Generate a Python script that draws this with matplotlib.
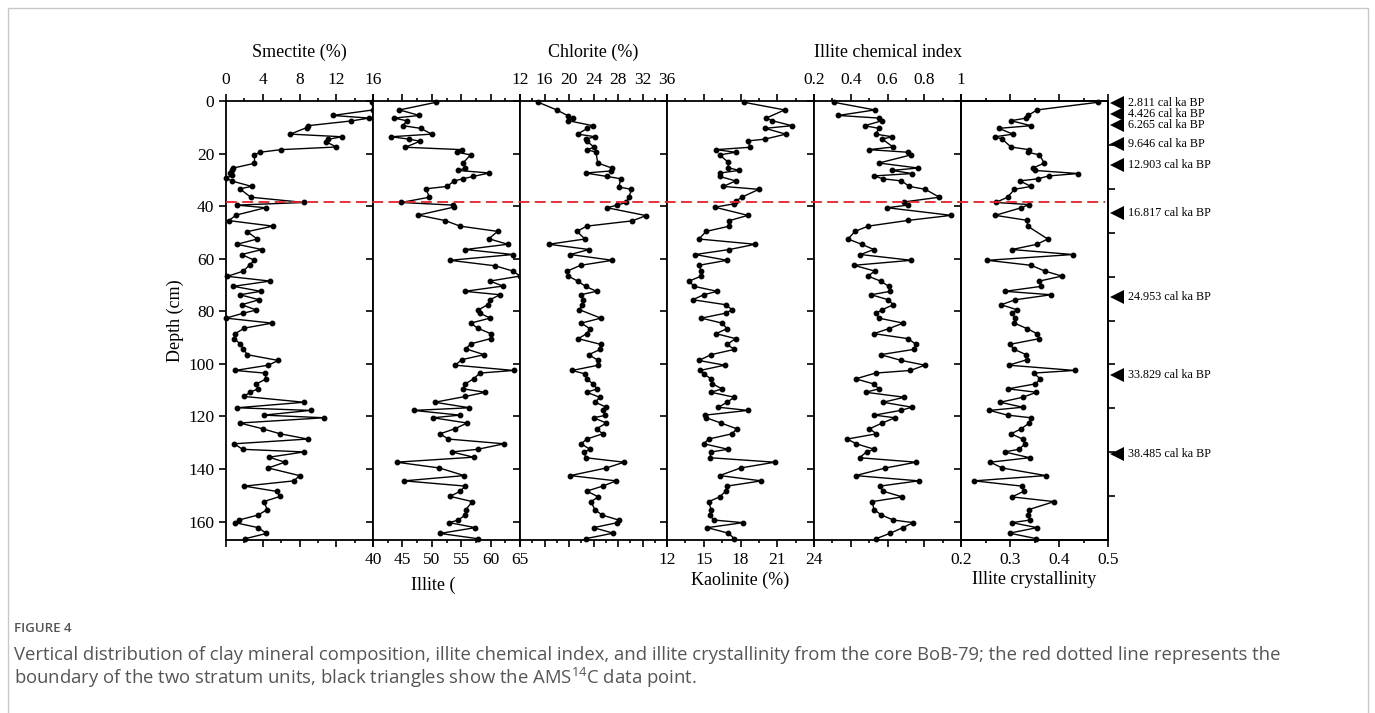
import numpy as np
import matplotlib
matplotlib.use("Agg")
import matplotlib.pyplot as plt
import matplotlib.transforms as mtransforms
from matplotlib.lines import Line2D
from matplotlib.patches import Rectangle
from matplotlib.ticker import MultipleLocator

# ---- data (depth in cm) ----
smectite_depth = [0.5, 3.4, 5.5, 6.5, 7.6, 9.4, 10.1, 12.6, 13.6, 14.6, 15.5, 17.5, 18.5, 19.5, 20.5,
                  23.7, 25.5, 26.4, 27.3, 28.3, 29.3, 30.4, 32.5, 33.4, 36.6, 38.6, 39.6, 40.6, 43.4,
                  45.5, 47.6, 49.7, 52.5, 54.5, 56.5, 58.4, 60.6, 62.2, 64.7, 66.7, 68.5, 70.5, 72.4,
                  73.7, 75.6, 77.5, 79.5, 80.7, 82.6, 84.5, 86.4, 88.5, 90.4, 92.3, 94.3, 96.5, 98.7,
                  100.5, 102.5, 103.5, 105.7, 107.6, 109.5, 110.8, 112.4, 114.6, 116.7, 117.7, 119.5,
                  120.5, 122.5, 124.7, 126.6, 128.6, 130.4, 132.5, 133.5, 135.5, 137.4, 139.6, 142.5,
                  144.5, 146.5, 148.5, 150.4, 152.4, 155.4, 157.5, 159.4, 160.4, 162.3, 164.5, 166.5]
smectite = [15.9, 16.0, 11.6, 15.6, 13.6, 8.9, 8.8, 7.0, 12.6, 11.1, 10.9, 12.0, 6.0, 3.7, 3.1,
            3.1, 0.8, 0.6, 0.4, 0.7, 0.04, 0.6, 2.8, 1.5, 2.7, 8.5, 1.2, 4.3, 1.1,
            0.3, 5.1, 2.3, 3.4, 1.2, 3.9, 1.7, 3.1, 2.6, 1.9, 0.15, 4.8, 0.8, 3.8,
            1.5, 3.6, 1.7, 3.3, 1.9, 0.0, 5.0, 2.0, 1.0, 0.9, 1.5, 1.9, 2.3, 5.7,
            4.6, 1.0, 4.2, 4.4, 3.3, 3.5, 2.6, 2.0, 8.5, 1.2, 9.2, 4.1,
            10.7, 1.5, 4.0, 5.9, 8.9, 0.9, 1.8, 8.5, 4.7, 6.4, 4.6, 8.0,
            7.4, 2.0, 5.5, 5.9, 4.1, 4.5, 3.5, 1.4, 1.0, 3.5, 4.4, 2.1]

illite_depth = [0.5, 3.4, 5.5, 6.5, 7.5, 9.4, 10.4, 12.6, 13.6, 14.5, 15.3, 17.6, 18.5, 19.5, 20.5,
                23.6, 25.5, 26.4, 27.4, 28.7, 29.6, 30.4, 32.5, 33.4, 36.6, 38.6, 39.6, 40.4, 43.4,
                45.5, 47.6, 49.6, 52.4, 54.5, 56.5, 58.4, 60.6, 62.7, 64.7, 66.6, 68.5, 70.4, 72.4,
                73.7, 75.6, 77.5, 79.5, 80.7, 82.6, 84.5, 86.4, 88.5, 90.4, 92.4, 94.3, 96.5, 98.4,
                100.5, 102.5, 103.5, 105.7, 107.6, 109.5, 110.8, 112.4, 114.6, 116.7, 117.7, 119.5,
                120.5, 122.5, 124.7, 126.6, 128.6, 130.4, 132.5, 133.5, 135.5, 137.4, 139.6, 142.5,
                144.5, 146.5, 148.5, 150.4, 152.4, 155.4, 157.5, 159.4, 160.4, 162.3, 164.5, 166.5]
illite = [50.7, 44.5, 47.9, 43.6, 45.7, 45.1, 48.1, 50.0, 43.1, 46.1, 48.0, 45.5, 55.1, 54.3, 56.6,
          55.3, 55.7, 54.5, 59.8, 57.0, 55.3, 53.8, 52.6, 49.0, 49.6, 44.8, 53.6, 53.7, 47.7,
          52.3, 54.8, 61.2, 59.7, 62.9, 55.7, 63.8, 53.1, 60.8, 63.8, 65.0, 59.9, 62.1, 55.6,
          61.6, 59.9, 59.5, 57.9, 58.2, 59.9, 56.6, 57.8, 60.0, 60.0, 56.6, 55.8, 58.9, 55.1,
          54.0, 63.9, 58.2, 57.1, 55.7, 55.3, 59.1, 55.7, 50.5, 56.4, 46.9, 54.8,
          50.2, 56.0, 53.9, 51.4, 52.8, 62.3, 57.8, 53.4, 57.1, 44.0, 51.3, 55.5,
          45.3, 55.7, 54.8, 53.1, 56.9, 55.8, 55.7, 54.5, 53.0, 57.4, 51.4, 57.8]

chlorite_depth = [0.5, 3.4, 5.7, 6.5, 7.5, 9.4, 10.4, 12.6, 13.6, 14.5, 15.2, 17.6, 18.5, 19.5,
                  23.6, 25.5, 26.6, 27.4, 28.7, 29.6, 32.7, 33.6, 36.6, 38.6, 39.6, 40.6, 43.6,
                  45.6, 47.6, 49.6, 52.5, 54.5, 56.5, 58.4, 60.6, 62.5, 64.7, 66.6, 68.5, 70.5,
                  72.4, 73.7, 75.6, 77.5, 79.4, 82.6, 84.5, 86.6, 88.5, 90.4, 92.6, 94.5, 96.5,
                  98.7, 100.5, 102.5, 103.8, 105.7, 107.6, 109.5, 110.8, 112.7, 114.6, 116.5,
                  117.7, 119.6, 120.5, 122.5, 124.7, 126.6, 128.6, 130.4, 132.5, 133.5, 135.7,
                  137.4, 139.6, 142.5, 144.5, 146.5, 148.4, 150.6, 152.4, 155.4, 157.5, 159.4,
                  160.4, 162.3, 164.4, 166.5]
chlorite = [15.0, 18.0, 19.9, 20.6, 19.9, 23.9, 23.0, 21.4, 24.3, 22.7, 22.9, 24.1, 23.0, 24.4,
            24.7, 27.0, 26.9, 22.7, 26.2, 28.5, 28.1, 30.2, 29.8, 29.3, 27.9, 26.2, 32.6,
            30.3, 22.9, 21.3, 22.6, 16.7, 23.3, 20.2, 27.1, 21.9, 19.7, 19.9, 21.4, 22.7,
            24.5, 21.9, 22.3, 22.2, 21.7, 25.2, 22.0, 23.4, 22.9, 21.5, 25.2, 25.1, 23.2,
            24.8, 24.8, 20.5, 22.6, 22.9, 23.9, 24.6, 22.9, 25.0, 24.3, 26.1,
            25.5, 25.9, 24.0, 26.1, 24.5, 25.5, 22.9, 22.0, 23.4, 22.5, 22.7,
            29.0, 26.1, 20.2, 27.7, 25.5, 22.9, 24.8, 23.6, 24.2, 25.4, 28.1,
            27.9, 24.0, 27.2, 22.7]

kaolinite_depth = [0.5, 3.4, 6.5, 7.5, 9.4, 10.4, 12.6, 14.5, 15.2, 17.6, 18.5, 19.5, 20.5, 23.3,
                   25.4, 26.4, 27.4, 28.7, 30.4, 32.5, 33.6, 36.6, 38.2, 39.1, 40.4, 43.5, 45.5,
                   47.6, 49.6, 52.5, 54.5, 56.5, 58.4, 60.6, 62.5, 64.7, 66.6, 68.5, 70.5, 72.4,
                   73.7, 75.6, 77.5, 79.4, 80.7, 82.6, 84.5, 86.6, 88.5, 90.4, 92.6, 94.5, 96.5,
                   98.7, 100.5, 102.5, 103.8, 105.7, 107.6, 109.5, 110.8, 112.7, 114.6, 116.5,
                   117.7, 119.5, 120.5, 122.5, 124.7, 126.6, 128.6, 130.4, 132.5, 133.5, 135.7,
                   137.4, 139.6, 142.5, 144.5, 146.5, 148.4, 150.6, 152.4, 155.4, 157.5, 159.4,
                   160.4, 162.3, 164.4, 166.5]
kaolinite = [18.3, 21.6, 20.1, 20.6, 22.2, 20.0, 21.7, 20.0, 18.6, 18.8, 16.0, 17.6, 16.3, 17.0,
             17.0, 17.9, 16.3, 16.3, 17.6, 16.6, 19.5, 18.1, 17.6, 17.5, 15.9, 18.6, 17.1,
             17.1, 15.2, 14.6, 19.2, 17.1, 14.3, 16.9, 14.6, 14.8, 14.8, 13.8, 14.2, 16.1,
             15.0, 14.1, 16.8, 17.3, 16.8, 14.8, 16.5, 16.9, 16.0, 17.6, 16.9, 17.5, 15.6,
             14.6, 16.7, 14.7, 15.0, 15.6, 15.7, 16.5, 15.6, 17.5, 16.9, 16.2,
             18.6, 15.1, 15.2, 16.4, 17.7, 17.3, 15.4, 15.0, 17.0, 15.6, 15.5,
             20.8, 18.0, 16.3, 19.7, 16.9, 16.8, 16.3, 15.4, 15.6, 15.5, 15.8,
             18.2, 15.3, 17.0, 17.5]

ici_depth = [0.5, 3.4, 5.5, 6.5, 7.5, 9.4, 10.4, 12.6, 13.6, 14.5, 17.5, 18.5, 19.5, 20.5, 23.6,
             25.5, 26.4, 27.6, 28.5, 29.6, 30.4, 32.5, 33.6, 36.6, 38.4, 39.6, 40.6, 43.5,
             45.4, 47.6, 49.6, 52.5, 54.5, 56.5, 58.4, 60.6, 62.5, 64.7, 66.6, 68.5, 70.5,
             72.4, 73.7, 75.6, 77.5, 79.4, 80.7, 82.6, 84.5, 86.6, 88.5, 90.4, 92.6, 94.5,
             96.5, 98.7, 100.5, 102.5, 103.5, 105.7, 107.6, 109.5, 110.8, 112.7, 114.6, 116.5,
             117.7, 119.5, 120.5, 122.5, 124.7, 126.6, 128.6, 130.4, 132.5, 133.5, 135.7,
             137.4, 139.6, 142.5, 144.5, 146.5, 148.4, 150.6, 152.4, 155.4, 157.5, 159.4,
             160.4, 162.3, 164.4, 166.5]
ici = [0.309, 0.531, 0.332, 0.553, 0.571, 0.475, 0.553, 0.535, 0.625, 0.571, 0.631, 0.499,
       0.712, 0.728, 0.553, 0.767, 0.625, 0.734, 0.526, 0.576, 0.676, 0.719, 0.806, 0.882,
       0.690, 0.712, 0.598, 0.947, 0.714, 0.495, 0.423, 0.385, 0.459, 0.526, 0.453, 0.730,
       0.417, 0.531, 0.493, 0.562, 0.607, 0.616, 0.511, 0.604, 0.631, 0.571, 0.540, 0.553,
       0.685, 0.607, 0.526, 0.712, 0.756, 0.743, 0.562, 0.676, 0.803, 0.725, 0.535, 0.426,
       0.524, 0.553, 0.481, 0.692, 0.576, 0.734, 0.671, 0.529, 0.640, 0.571, 0.502, 0.540,
       0.381, 0.430, 0.529, 0.486, 0.448, 0.756, 0.589, 0.426, 0.770, 0.558, 0.575, 0.680,
       0.517, 0.526, 0.567, 0.631, 0.740, 0.683, 0.616, 0.538]

ic_depth = [0.5, 3.4, 5.5, 6.5, 7.5, 9.4, 10.4, 12.6, 13.6, 14.5, 17.5, 18.5, 19.5, 20.5, 23.6,
            25.5, 26.4, 27.6, 28.5, 29.6, 30.4, 32.5, 33.6, 36.6, 38.6, 39.4, 40.6, 43.5,
            45.4, 47.6, 52.5, 54.5, 56.5, 58.4, 60.6, 62.5, 64.7, 66.6, 68.5, 70.5, 72.4,
            73.7, 75.6, 77.5, 79.4, 80.7, 82.6, 84.5, 86.6, 88.5, 90.4, 92.6, 94.5, 96.5,
            98.4, 100.5, 102.5, 103.5, 105.7, 107.6, 109.5, 110.8, 112.7, 114.6, 116.5,
            117.7, 119.5, 120.5, 122.5, 124.7, 126.6, 128.6, 130.4, 132.5, 133.5, 135.7,
            137.4, 139.6, 142.5, 144.5, 146.5, 148.4, 150.6, 152.4, 155.4, 157.5, 159.4,
            160.4, 162.3, 164.4, 166.5]
ic = [0.479, 0.355, 0.337, 0.333, 0.302, 0.343, 0.277, 0.306, 0.270, 0.284, 0.302, 0.338,
      0.337, 0.360, 0.370, 0.347, 0.350, 0.439, 0.379, 0.357, 0.320, 0.343, 0.309, 0.295,
      0.271, 0.339, 0.323, 0.270, 0.335, 0.336, 0.377, 0.355, 0.304, 0.428, 0.254, 0.343,
      0.371, 0.406, 0.360, 0.364, 0.290, 0.384, 0.311, 0.282, 0.314, 0.304, 0.311, 0.309,
      0.335, 0.355, 0.360, 0.299, 0.309, 0.333, 0.335, 0.297, 0.432, 0.348, 0.362, 0.352,
      0.296, 0.354, 0.326, 0.280, 0.326, 0.258, 0.295, 0.343, 0.339, 0.323, 0.302, 0.326,
      0.331, 0.318, 0.289, 0.340, 0.260, 0.284, 0.373, 0.227, 0.324, 0.329, 0.304, 0.390,
      0.339, 0.337, 0.341, 0.304, 0.355, 0.299, 0.354]

boundary_depth = 38.5
age_depth = [0.8, 5.0, 9.1, 16.5, 24.3, 42.5, 74.4, 104.2, 134.2]
age_labels = ["2.811 cal ka BP", "4.426 cal ka BP", "6.265 cal ka BP", "9.646 cal ka BP",
              "12.903 cal ka BP", "16.817 cal ka BP", "24.953 cal ka BP", "33.829 cal ka BP",
              "38.485 cal ka BP"]

panels = [
    (smectite, smectite_depth, "Smectite (%)", "top", (0, 16), 2, [0, 4, 8, 12, 16]),
    (illite, illite_depth, "Illite (", "bottom", (40, 65), 2.5, [40, 45, 50, 55, 60, 65]),
    (chlorite, chlorite_depth, "Chlorite (%)", "top", (12, 36), 2, [12, 16, 20, 24, 28, 32, 36]),
    (kaolinite, kaolinite_depth, "Kaolinite (%)", "bottom", (12, 24), 1.5, [12, 15, 18, 21, 24]),
    (ici, ici_depth, "Illite chemical index", "top", (0.2, 1.0), 0.1, [0.2, 0.4, 0.6, 0.8, 1.0]),
    (ic, ic_depth, "Illite crystallinity", "bottom", (0.2, 0.5), 0.05, [0.2, 0.3, 0.4, 0.5]),
]

plt.rcParams["font.family"] = ["Liberation Serif", "DejaVu Serif"]
plt.rcParams["mathtext.fontset"] = "custom"
plt.rcParams["mathtext.rm"] = "Open Sans"

W, H = 1375, 713
fig = plt.figure(figsize=(W / 100, H / 100), dpi=100)

# outer frame
fig.patches.append(Rectangle((8 / W, -0.05), (1368 - 8) / W, 1.05 - 8 / H, transform=fig.transFigure,
                             fill=False, edgecolor="#c8c8c8", linewidth=1.0))

left_px, width_px, top_px, bottom_px = 226, 147, 101, 540
axes = []
for i, (vals, dep, label, side, lim, minor, ticks) in enumerate(panels):
    ax = fig.add_axes([(left_px + i * width_px) / W, 1 - bottom_px / H,
                       width_px / W, (bottom_px - top_px) / H])
    ax.plot(vals, dep, color="black", linewidth=1.0, marker="o", markersize=3.2, clip_on=False)
    ax.set_xlim(*lim)
    ax.set_ylim(167, 0)
    ax.set_xticks(ticks)
    ax.xaxis.set_minor_locator(MultipleLocator(minor))
    ax.set_xticklabels([f"{t:g}" for t in ticks])
    ax.set_yticks(range(0, 161, 20))
    for s in ax.spines.values():
        s.set_linewidth(1.3)
    ax.tick_params(axis="x", which="both", top=True, bottom=True, direction="out",
                   labeltop=(side == "top"), labelbottom=(side == "bottom"),
                   labelsize=12.5, width=1.2, pad=4)
    ax.tick_params(axis="x", which="major", length=5)
    ax.tick_params(axis="x", which="minor", length=2.5)
    ax.tick_params(axis="y", which="major", direction="out", length=5, width=1.2,
                   labelleft=(i == 0), labelsize=12.5, right=False)
    if side == "top":
        ax.xaxis.set_label_position("top")
        ax.set_xlabel(label, fontsize=13, labelpad=11)
    else:
        ax.set_xlabel(label, fontsize=13, labelpad=2)
    if i == 1:
        ax.xaxis.set_label_coords(0.41, -0.083)
    axes.append(ax)

axes[0].set_ylabel("Depth (cm)", fontsize=13, labelpad=3)

# right-hand tick axis on last panel
twin = axes[5].twinx()
twin.set_ylim(10, 0)
twin.set_yticks(range(1, 10))
twin.tick_params(axis="y", direction="out", length=5, width=1.2, labelright=False)
for s in twin.spines.values():
    s.set_linewidth(1.3)

# stratum boundary
trans = mtransforms.blended_transform_factory(fig.transFigure, axes[0].transData)
fig.add_artist(Line2D([left_px / W, (left_px + 6 * width_px - 3) / W], [boundary_depth, boundary_depth],
                      transform=trans, color="#e8202a", linestyle=(0, (6, 3)), linewidth=1.3))

# AMS 14C age triangles
tr6 = mtransforms.blended_transform_factory(axes[5].transAxes, axes[5].transData)
axes[5].plot([1.058] * len(age_depth), age_depth, marker="<", linestyle="none", color="black",
             markeredgewidth=0, markersize=10.5, transform=tr6, clip_on=False)
for d, lab in zip(age_depth, age_labels):
    axes[5].text(1.135, d, lab, transform=tr6, fontsize=8.7, va="center", ha="left")

# caption
cap_font = ["Open Sans", "DejaVu Sans"]
fig.text(14 / W, 1 - 628 / H, "FIGURE 4", fontsize=9.5, color="#555555", family=cap_font,
         fontweight="semibold", va="center")
fig.text(14 / W, 1 - 655 / H,
         "Vertical distribution of clay mineral composition, illite chemical index, and illite crystallinity "
         "from the core BoB-79; the red dotted line represents the",
         fontsize=13.3, color="#555555", family=cap_font, va="center")
fig.text(14 / W, 1 - 678 / H,
         "boundary of the two stratum units, black triangles show the AMS$^{14}$C data point.",
         fontsize=13.3, color="#555555", family=cap_font, va="center")

fig.savefig("out.png", dpi=100)
